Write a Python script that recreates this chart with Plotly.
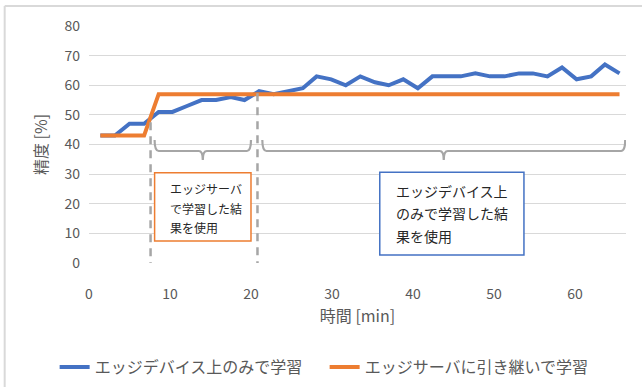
import plotly.graph_objects as go

# Elapsed time [min] for each measurement
time_min = [1.4, 3.2, 5.0, 6.8, 8.6, 10.3, 12.1, 13.9, 15.7, 17.5, 19.2, 21.0,
            22.8, 24.6, 26.4, 28.1, 29.9, 31.7, 33.5, 35.3, 37.0, 38.8, 40.6,
            42.4, 44.2, 45.9, 47.7, 49.5, 51.3, 53.1, 54.8, 56.6, 58.4, 60.2,
            62.0, 63.7, 65.5]

# Accuracy [%] when training only on the edge device
acc_device_only = [43, 43, 47, 47, 51, 51, 53, 55, 55, 56, 55, 58,
                   57, 58, 59, 63, 62, 60, 63, 61, 60, 62, 59,
                   63, 63, 63, 64, 63, 63, 64, 64, 63, 66, 62,
                   63, 67, 64]

# Accuracy [%] when training is handed over to the edge server
acc_server_handover = [43, 43, 43, 43] + [57] * 33

series_names = ["エッジデバイス上のみで学習", "エッジサーバに引き継いで学習"]
x_ticks = [0, 10, 20, 30, 40, 50, 60]
y_ticks = [0, 10, 20, 30, 40, 50, 60, 70, 80]

JP = "Noto Sans CJK JP"
GRAY_TEXT = "#595959"
BLUE = "#4472C4"
ORANGE = "#ED7D31"
MARK_GRAY = "#A6A6A6"

fig = go.Figure()
fig.add_trace(go.Scatter(x=time_min, y=acc_device_only, mode="lines",
                         name=series_names[0],
                         line=dict(color=BLUE, width=4)))
fig.add_trace(go.Scatter(x=time_min, y=acc_server_handover, mode="lines",
                         name=series_names[1],
                         line=dict(color=ORANGE, width=4)))


def brace(x0, x1, y_top=41.5, y_mid=37.8, y_tip=34.8, r=0.5):
    """Downward curly brace between x0 and x1 (data units)."""
    xc = (x0 + x1) / 2
    return (f"M{x0},{y_top} Q{x0},{y_mid} {x0 + r},{y_mid} "
            f"L{xc - r},{y_mid} Q{xc},{y_mid} {xc},{y_tip} "
            f"Q{xc},{y_mid} {xc + r},{y_mid} "
            f"L{x1 - r},{y_mid} Q{x1},{y_mid} {x1},{y_top}")


shapes = [
    # phase boundaries
    dict(type="line", xref="x", yref="y", x0=7.6, x1=7.6, y0=47.5, y1=0,
         line=dict(color=MARK_GRAY, width=2.5, dash="8px,6px")),
    dict(type="line", xref="x", yref="y", x0=20.8, x1=20.8, y0=57.3, y1=0,
         line=dict(color=MARK_GRAY, width=2.5, dash="8px,6px")),
    # braces spanning each phase
    dict(type="path", xref="x", yref="y", path=brace(8.1, 20.0),
         line=dict(color=MARK_GRAY, width=2.2)),
    dict(type="path", xref="x", yref="y", path=brace(21.4, 66.2),
         line=dict(color=MARK_GRAY, width=2.2)),
    # callout boxes
    dict(type="rect", xref="x", yref="y", x0=8.1, x1=20.0, y0=7.4, y1=30.5,
         line=dict(color=ORANGE, width=1.5), fillcolor="white"),
    dict(type="rect", xref="x", yref="y", x0=35.9, x1=53.7, y0=2.7, y1=30.6,
         line=dict(color=BLUE, width=1.5), fillcolor="white"),
    # chart frame (top and left edges)
    dict(type="line", xref="paper", yref="paper", x0=-0.157, x1=1.05,
         y0=1.0844, y1=1.0844, line=dict(color="#D9D9D9", width=2)),
    dict(type="line", xref="paper", yref="paper", x0=-0.157, x1=-0.157,
         y0=1.0844, y1=-0.53, line=dict(color="#D9D9D9", width=2)),
]


def lines(text_lines, size):
    return "<br>".join(f"<span style='font-size:{size}px'>{t}</span>"
                       for t in text_lines)


annotations = [
    dict(xref="x", yref="y", x=9.7, y=18.7, xanchor="left", yanchor="middle",
         align="left", showarrow=False,
         text=lines(["エッジサーバ", "で学習した結", "果を使用"], 12),
         font=dict(family=JP, size=15, color="#262626")),
    dict(xref="x", yref="y", x=37.6, y=16.6, xanchor="left", yanchor="middle",
         align="left", showarrow=False,
         text=lines(["エッジデバイス上", "のみで学習した結", "果を使用"], 14),
         font=dict(family=JP, size=17.3, color="#262626")),
]

fig.update_layout(
    width=642, height=387,
    margin=dict(l=89, r=16, t=26, b=124, autoexpand=False),
    paper_bgcolor="white", plot_bgcolor="white",
    font=dict(family=JP, color=GRAY_TEXT),
    shapes=shapes, annotations=annotations,
    showlegend=True,
    legend=dict(orientation="h", x=-0.064, xanchor="left",
                y=-0.439, yanchor="middle",
                font=dict(family=JP, size=16, color=GRAY_TEXT),
                entrywidth=225, bgcolor="rgba(0,0,0,0)"),
    xaxis=dict(range=[0, 66.3], tickvals=x_ticks, showgrid=False,
               zeroline=False, showline=False, ticks="", automargin=False,
               tickfont=dict(family=JP, size=14, color=GRAY_TEXT),
               ticklabelstandoff=21,
               title=dict(text="時間 [min]", standoff=0,
                          font=dict(family=JP, size=16, color=GRAY_TEXT))),
    yaxis=dict(range=[0, 80], tickvals=y_ticks, showgrid=True,
               gridcolor="#D9D9D9", gridwidth=1.3, zeroline=False,
               showline=False, ticks="", automargin=False,
               tickfont=dict(family=JP, size=14, color=GRAY_TEXT),
               ticklabelstandoff=8,
               title=dict(text="精度 [%]", standoff=12,
                          font=dict(family=JP, size=16, color=GRAY_TEXT))),
)

fig.write_html("out.html")
